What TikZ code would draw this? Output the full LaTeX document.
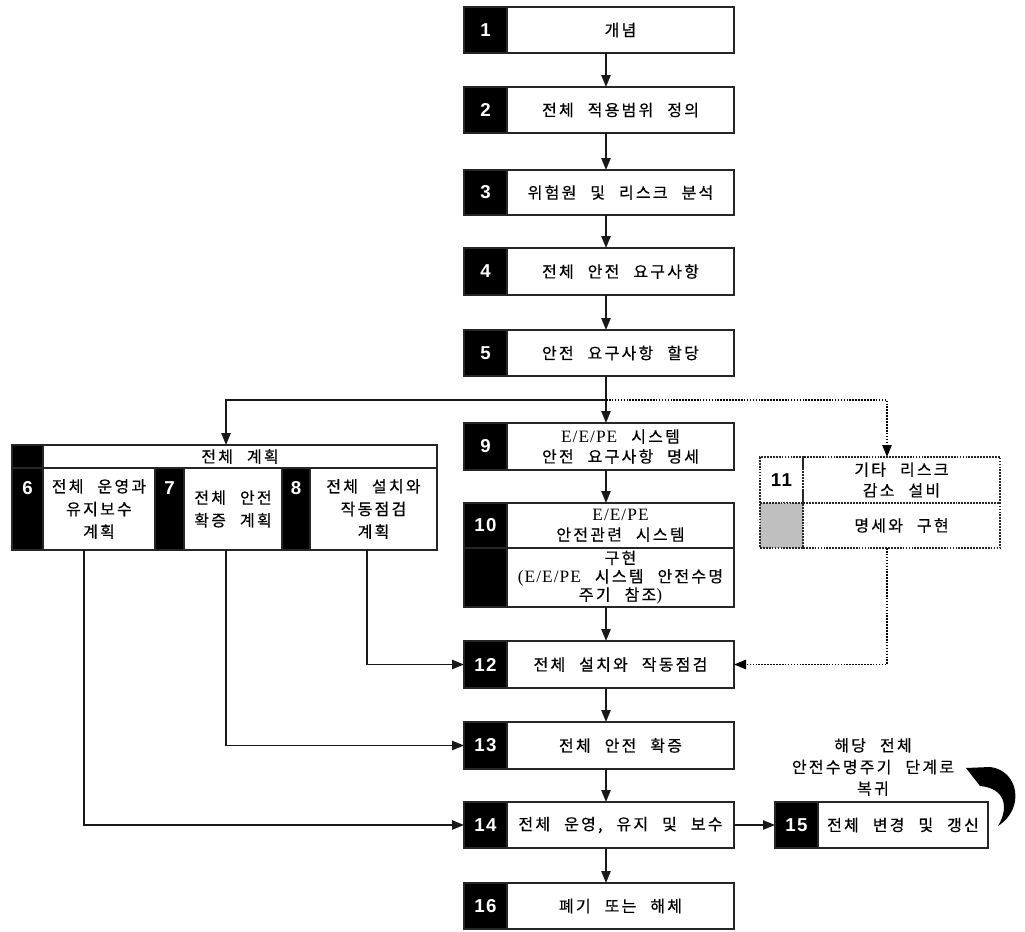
\documentclass[tikz,border=0pt]{standalone}
\usepackage{fontspec}
\setmainfont{Liberation Serif}
\newfontfamily\kr[LetterSpace=14,WordSpace=2.4,FakeBold=0.4]{Noto Sans CJK KR}
\newfontfamily\ser[LetterSpace=6]{Liberation Serif}
\newfontfamily\num[LetterSpace=8]{Liberation Sans}
\newcommand\sr[1]{{\ser\fontsize{13}{15}\selectfont #1}}
\usetikzlibrary{arrows.meta}
\newcommand\rbox[7]{%
  \node[#1, minimum width={(#5-#3)*0.75pt}, minimum height={(#6-#4)*0.75pt}] (#2) at ({(#3+#5)/2},{(#4+#6)/2}) {#7};}
\tikzset{
  base/.style={inner sep=0pt, outer sep=0pt},
  wb/.style={base, draw=black!85, line width=1.3pt, fill=white, align=center,
    font=\kr\fontsize{12}{15}\selectfont},
  bb/.style={base, draw=black!85, line width=1.3pt, fill=black, text=white,
    font=\num\bfseries\fontsize{14}{16}\selectfont},
  dotbox/.style={base, draw=black!85, line width=1.3pt, dash pattern=on 1.3pt off 0.9pt, align=center,
    font=\kr\fontsize{12}{15.5}\selectfont},
  numtxt/.style={base, text=white, font=\num\bfseries\fontsize{14}{16}\selectfont},
  tip/.style={-{Triangle[length=9pt,width=7pt]}},
  ln/.style={line width=1.1pt, draw=black!90},
  arr/.style={ln, tip},
  dotln/.style={line width=1.2pt, dash pattern=on 1.2pt off 1pt, tip},
}
\begin{document}
\begin{tikzpicture}[x=0.75pt,y=-0.75pt]
\useasboundingbox (0,0) rectangle (1025,932);
\coordinate (ax) at (606,0);
\coordinate (gx) at (226,0);
\coordinate (dx) at (887,0);
\coordinate (c6) at (84,0);
\coordinate (c7) at (226,0);
\coordinate (c8) at (367,0);
\coordinate (J) at (606,400);

% main column
\rbox{bb}{n1}{464}{7}{507}{53}{1}
\rbox{wb}{w1}{507}{7}{734}{53}{개념}
\rbox{bb}{n2}{464}{87}{507}{133}{2}
\rbox{wb}{w2}{507}{87}{734}{133}{전체 적용범위 정의}
\rbox{bb}{n3}{464}{170}{507}{215}{3}
\rbox{wb}{w3}{507}{170}{734}{215}{위험원 및 리스크 분석}
\rbox{bb}{n4}{464}{248}{507}{295}{4}
\rbox{wb}{w4}{507}{248}{734}{295}{전체 안전 요구사항}
\rbox{bb}{n5}{464}{330}{507}{376}{5}
\rbox{wb}{w5}{507}{330}{734}{376}{안전 요구사항 할당}
\rbox{bb}{n9}{464}{423}{507}{470}{9}
\rbox{wb}{w9}{507}{423}{734}{470}{\sr{E/E/PE} 시스템\\안전 요구사항 명세}
\rbox{bb}{n10a}{464}{503}{507}{548}{10}
\rbox{wb}{w10a}{507}{503}{734}{548}{\sr{E/E/PE}\\안전관련 시스템}
\rbox{bb}{n10b}{464}{548}{507}{607}{}
\rbox{wb,font=\kr\fontsize{12}{13.8}\selectfont}{w10b}{507}{548}{734}{607}{구현\\\sr{(E/E/PE} 시스템 안전수명\\주기 참조\sr{)}}
\rbox{bb}{n12}{464}{641}{507}{688}{12}
\rbox{wb}{w12}{507}{641}{734}{688}{전체 설치와 작동점검}
\rbox{bb}{n13}{464}{722}{507}{769}{13}
\rbox{wb}{w13}{507}{722}{734}{769}{전체 안전 확증}
\rbox{bb}{n14}{464}{802}{507}{848}{14}
\rbox{wb}{w14}{507}{802}{734}{848}{전체 운영, 유지 및 보수}
\rbox{bb}{n16}{464}{883}{507}{929}{16}
\rbox{wb}{w16}{507}{883}{734}{929}{폐기 또는 해체}

% box 15
\rbox{bb}{n15}{775}{802}{818}{848}{15}
\rbox{wb}{w15}{818}{802}{988}{848}{전체 변경 및 갱신}

% overall planning group
\rbox{bb}{hb}{12}{445}{43}{468}{}
\rbox{wb}{hw}{43}{445}{437}{468}{전체 계획}
\rbox{bb}{n6}{12}{468}{43}{550}{}
\rbox{wb,font=\kr\fontsize{12}{17}\selectfont}{w6}{43}{468}{155}{550}{전체 운영과\\유지보수\\계획}
\rbox{bb}{n7}{155}{468}{184}{550}{}
\rbox{wb,font=\kr\fontsize{12}{17}\selectfont}{w7}{184}{468}{282}{550}{전체 안전\\확증 계획}
\rbox{bb}{n8}{282}{468}{310}{550}{}
\rbox{wb,font=\kr\fontsize{12}{17}\selectfont}{w8}{310}{468}{437}{550}{전체 설치와\\작동점검\\계획}
\node[numtxt] (l6) at (27.5,488) {6};
\node[numtxt] (l7) at (169.5,488) {7};
\node[numtxt] (l8) at (296,488) {8};

% box 11
\rbox{dotbox,font=\num\bfseries\fontsize{14}{16}\selectfont}{c11}{760}{457}{803}{503}{11}
\rbox{dotbox}{w11a}{803}{457}{1000}{503}{기타 리스크\\감소 설비}
\rbox{dotbox,fill=black!25}{g11}{760}{503}{803}{548}{}
\rbox{dotbox}{w11b}{803}{503}{1000}{548}{명세와 구현}

% return label
\node[base, align=center, font=\kr\fontsize{12}{16.2}\selectfont] (lbl) at (873,767) {해당 전체\\안전수명주기 단계로\\복귀};

% connectors
\draw[arr] (w1.south -| ax) -- (w2.north -| ax);
\draw[arr] (w2.south -| ax) -- (w3.north -| ax);
\draw[arr] (w3.south -| ax) -- (w4.north -| ax);
\draw[arr] (w4.south -| ax) -- (w5.north -| ax);
\draw[ln] (w5.south -| ax) -- (J);
\draw[arr] (J) -- (w9.north -| ax);
\draw[arr] (J) -| (hw.north -| gx);
\draw[dotln] (J) -| (w11a.north -| dx);
\draw[arr] (w9.south -| ax) -- (w10a.north -| ax);
\draw[arr] (w10b.south -| ax) -- (w12.north -| ax);
\draw[dotln] (w11b.south -| dx) |- (w12.east);
\draw[arr] (w8.south -| c8) |- (n12.west);
\draw[arr] (w7.south -| c7) |- (n13.west);
\draw[arr] (w6.south -| c6) |- (n14.west);
\draw[arr] (w12.south -| ax) -- (w13.north -| ax);
\draw[arr] (w13.south -| ax) -- (w14.north -| ax);
\draw[arr] (w14.south -| ax) -- (w16.north -| ax);
\draw[arr] (w14.east) -- (n15.west);

% thick curved return arrow
\fill[black] (966,768) -- (990,767) .. controls (1018,770) and (1026,808) .. (998,826)
  .. controls (1010,806) and (1004,788) .. (980,786) -- cycle;
\end{tikzpicture}
\end{document}
